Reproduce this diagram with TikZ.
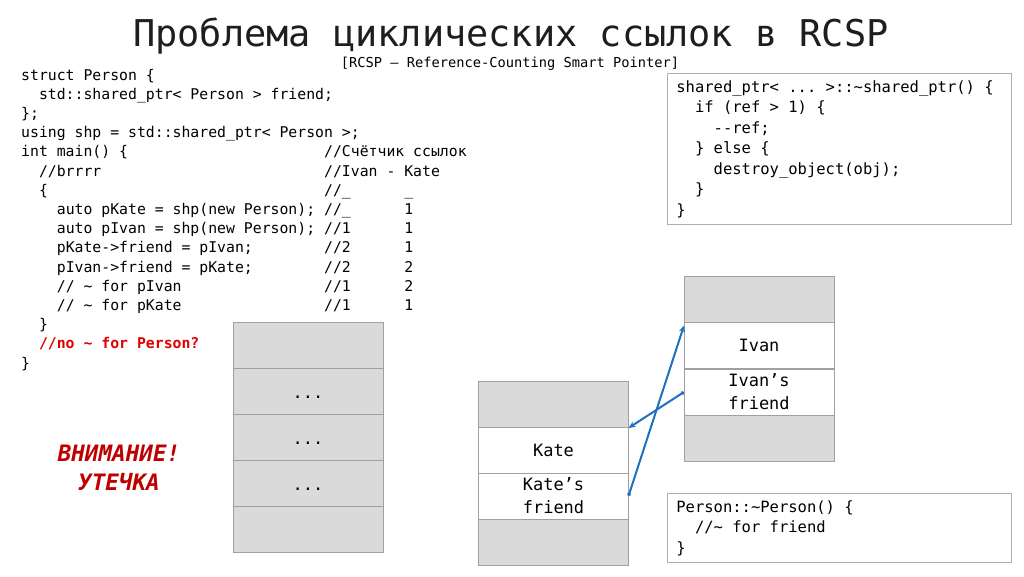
\documentclass[tikz,border=0pt]{standalone}
\usepackage{fontspec}
\newfontfamily\mono{DejaVu Sans Mono}
\usetikzlibrary{arrows.meta}
\newlength\cw
\setlength\cw{8.91pt}
\newlength\cwr
\setlength\cwr{9.33pt}
\newcommand\ci[1]{\hspace*{#1\cw}}
\newcommand\cir[1]{\hspace*{#1\cwr}}
\newcommand\cc[2]{\makebox[34\cw][l]{#1}#2}
\newcommand\cn[2]{\makebox[9\cw][l]{#1}#2}
\newcommand\tld{\textasciitilde}
\newcommand\monospaces{\spaceskip=0pt\relax\xspaceskip=0pt\relax}
\definecolor{cellgray}{RGB}{218,218,218}
\definecolor{edgegray}{RGB}{160,160,160}
\definecolor{boxgray}{RGB}{175,175,175}
\definecolor{arrowblue}{RGB}{31,112,193}
\definecolor{leakred}{RGB}{192,0,0}
\definecolor{commentred}{RGB}{225,0,0}
\definecolor{titlegray}{RGB}{30,30,30}
\begin{document}
\begin{tikzpicture}[x=1pt,y=-1pt,
  codeline/.style={anchor=base west, inner sep=0pt, font=\mono\frenchspacing\fontsize{14.8}{19.2}\selectfont},
  cell/.style={draw=edgegray, line width=1pt, minimum width=150pt, minimum height=46pt, inner sep=0pt, outer sep=0pt, align=center, font=\mono\frenchspacing\fontsize{17}{23}\selectfont},
  greycell/.style={cell, fill=cellgray},
  whitecell/.style={cell, fill=white},
  dotcell/.style={cell, fill=cellgray, text height=14pt, text depth=0pt},
  codebox/.style={draw=boxgray, line width=0.8pt, anchor=north west, align=left, inner xsep=9pt, inner ysep=0pt, text width=326pt, font=\mono\frenchspacing\fontsize{15.5}{20.5}\selectfont},
  link/.style={draw=arrowblue, line width=2pt, {Circle[length=3.5pt]}-{Stealth[length=7pt,width=6pt]}}
]
\useasboundingbox (0,0) rectangle (1024,576);
\fill[white] (0,0) rectangle (1024,576);

% title
\node[anchor=base, inner sep=0pt, text=titlegray, font=\mono\fontsize{36.9}{44}\selectfont] (title) at (511,46) {Проблема циклических ссылок в RCSP};
\node[anchor=base, inner sep=0pt, font=\mono\frenchspacing\fontsize{13.7}{16}\selectfont] (subtitle) at (510,67) {[RCSP – Reference-Counting Smart Pointer]};

% left code
\node[codeline] (l0) at (21,80.0) {struct Person \{};
\node[codeline] (l1) at (21,99.2) {\ci{2}std::shared\_ptr< Person > friend;};
\node[codeline] (l2) at (21,118.4) {\};};
\node[codeline] (l3) at (21,137.6) {using shp = std::shared\_ptr< Person >;};
\node[codeline] (l4) at (21,156.8) {\cc{int main() \{}{//Счётчик ссылок}};
\node[codeline] (l5) at (21,176.0) {\cc{\ci{2}//brrrr}{//Ivan - Kate}};
\node[codeline] (l6) at (21,195.2) {\cc{\ci{2}\{}{\cn{//\_}{\_}}};
\node[codeline] (l7) at (21,214.4) {\cc{\ci{4}auto pKate = shp(new Person);}{\cn{//\_}{1}}};
\node[codeline] (l8) at (21,233.6) {\cc{\ci{4}auto pIvan = shp(new Person);}{\cn{//1}{1}}};
\node[codeline] (l9) at (21,252.8) {\cc{\ci{4}pKate->friend = pIvan;}{\cn{//2}{1}}};
\node[codeline] (l10) at (21,272.0) {\cc{\ci{4}pIvan->friend = pKate;}{\cn{//2}{2}}};
\node[codeline] (l11) at (21,291.2) {\cc{\ci{4}// \tld{} for pIvan}{\cn{//1}{2}}};
\node[codeline] (l12) at (21,310.4) {\cc{\ci{4}// \tld{} for pKate}{\cn{//1}{1}}};
\node[codeline] (l13) at (21,329.6) {\ci{2}\}};
\node[codeline] (l14) at (21,348.8) {\ci{2}{\bfseries\color{commentred}//no \tld{} for Person?}};
\node[codeline] (l15) at (21,368.0) {\}};

% right code boxes
\node[codebox, minimum height=151pt] (dtor) at (667,73) {\monospaces shared\_ptr< ... >::\tld shared\_ptr() \{\\
\cir{2}if (ref > 1) \{\\
\cir{4}-\kern0pt-ref;\\
\cir{2}\} else \{\\
\cir{4}destroy\_object(obj);\\
\cir{2}\}\\
\}};
\node[codebox, minimum height=69pt] (pdtor) at (667,493) {\monospaces Person::\tld Person() \{\\
\cir{2}//\tld{} for friend\\
\}};

% warning
\node[align=center, inner sep=0pt, text=leakred, font=\mono\bfseries\itshape\fontsize{22.6}{29}\selectfont] (warn) at (119,467.5) {ВНИМАНИЕ!\\УТЕЧКА};

% memory stack (left)
\node[greycell] (m1) at (308,345) {};
\node[dotcell] (m2) at (308,391) {...};
\node[dotcell] (m3) at (308,437) {...};
\node[dotcell] (m4) at (308,483) {...};
\node[greycell] (m5) at (308,529) {};

% Kate
\node[greycell] (k0) at (553.5,404) {};
\node[whitecell] (k) at (553.5,450) {Kate};
\node[whitecell] (kf) at (553.5,496) {Kate’s\\friend};
\node[greycell] (k3) at (553.5,542) {};

% Ivan
\node[greycell] (i0) at (759,299) {};
\node[whitecell] (iv) at (759,345.5) {Ivan};
\node[whitecell] (ivf) at (759,392) {Ivan’s\\friend};
\node[greycell] (i3) at (759,438.5) {};

% links
\draw[link] (kf.east) -- ([yshift=-3pt]iv.north west);
\draw[link] (ivf.west) -- ([yshift=-1pt]k.north east);
\end{tikzpicture}
\end{document}
